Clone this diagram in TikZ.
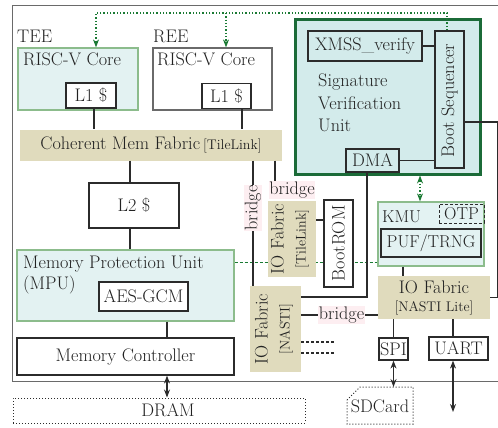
\documentclass[tikz,border=0pt]{standalone}
\usepackage{fontspec}
\usetikzlibrary{arrows.meta}
\pgfdeclarelayer{bg}
\pgfsetlayers{bg,main}
\definecolor{cyanfill}{HTML}{E3F2F2}
\definecolor{gborder}{HTML}{8CBC8C}
\definecolor{svfill}{HTML}{D3EBEB}
\definecolor{svgreen}{HTML}{1B6B38}
\definecolor{tanc}{HTML}{E0DBBD}
\definecolor{pinkc}{HTML}{FDEEF1}
\definecolor{gdotc}{HTML}{1A7A33}
\definecolor{edge}{HTML}{2B2B2B}
\definecolor{framec}{HTML}{6A6A6A}
\definecolor{txt}{HTML}{222222}
\newcommand\mainf{\fontsize{18.2}{22}\selectfont}
\newcommand\smallf{\fontsize{14}{16}\selectfont}
\newcommand\kmuf{\fontsize{17.2}{20}\selectfont}
\begin{document}
\begin{tikzpicture}[x=1pt,y=-1pt,
  sz/.style 2 args={minimum width=#1pt, minimum height=#2pt},
  lbl/.style={inner sep=0pt, font=\mainf, text=txt},
  box/.style={lbl, draw=edge, line width=1.2pt, fill=white},
  cyanbox/.style={lbl, draw=gborder, line width=1.2pt, fill=cyanfill},
  graybox/.style={lbl, draw=framec, line width=1.2pt, fill=white},
  tanbox/.style={lbl, fill=tanc},
  svbox/.style={lbl, draw=svgreen, line width=3pt, fill=svfill},
  dotbox/.style={lbl, draw=edge, line width=1pt, dotted},
  dashbox/.style={lbl, draw=edge, line width=1pt, dash pattern=on 3pt off 2pt},
  pinkl/.style={lbl, fill=pinkc, inner xsep=0.5pt, inner ysep=0.5pt},
  conn/.style={draw=edge, line width=1.2pt},
  dconn/.style={draw=edge, line width=1.2pt, dash pattern=on 3pt off 2pt},
  arr2/.style={draw=edge, line width=1.2pt, {Stealth[length=8pt,width=6pt]}-{Stealth[length=8pt,width=6pt]}},
  gdot/.style={draw=gdotc, line width=1.3pt, dotted},
  gdash/.style={draw=gdotc, line width=1pt, dash pattern=on 3pt off 2pt},
  gtip/.style={-{Stealth[length=8pt,width=6pt]}}
]
\useasboundingbox (0,0) rectangle (498,428);
\begin{pgfonlayer}{bg}
  \draw[framec, line width=1pt] (12,6) rectangle (510,381);
\end{pgfonlayer}

% TEE / REE cores
\node[lbl, anchor=base west] (teelab) at (17,43) {TEE};
\node[lbl, anchor=base west] (reelab) at (153,43) {REE};
\node[cyanbox, sz={120}{62}] (tee) at (78,79) {};
\node[lbl, anchor=base west] (teet) at (23,66) {RISC-V Core};
\node[box, sz={50}{25}] (teel1) at (91,95.5) {L1 \$};
\node[graybox, sz={119}{62}] (ree) at (212.5,79) {};
\node[lbl, anchor=base west] (reet) at (157,66) {RISC-V Core};
\node[box, sz={49}{25}] (reel1) at (226.5,96) {L1 \$};

% coherent fabric, L2, MPU, MC, DRAM
\node[tanbox, sz={262}{31}] (cmf) at (151,145) {Coherent Mem Fabric\,{\smallf[TileLink]}};
\node[box, sz={90}{45}] (l2) at (134,205.5) {L2 \$};
\node[cyanbox, sz={217}{71}] (mpu) at (125.5,285.5) {};
\node[lbl, anchor=base west] (mput1) at (23,268) {Memory Protection Unit};
\node[lbl, anchor=base west] (mput2) at (23,289) {(MPU)};
\node[box, sz={89}{29}] (aes) at (143.5,296.5) {AES-GCM};
\node[box, sz={217}{37}] (mc) at (125.5,356.5) {Memory Controller};
\node[dotbox, sz={292}{25}] (dram) at (159,410.5) {};
\node[lbl] (dramt) at (168,410.5) {DRAM};

% Signature verification unit
\node[svbox, sz={185}{154}] (svu) at (387.5,97) {};
\node[box, fill=svfill, sz={114}{30}] (xmss) at (365,46) {XMSS\_verify};
\node[box, fill=svfill, sz={29}{137}] (bs) at (449.5,99.5) {};
\node[lbl, rotate=90] (bst) at (449.5,100.5) {Boot Sequencer};
\node[box, fill=svfill, sz={53}{23}] (dma) at (372.5,160.5) {DMA};
\node[lbl, anchor=base west] (sv1) at (318,87) {Signature};
\node[lbl, anchor=base west] (sv2) at (318,110) {Verification};
\node[lbl, anchor=base west] (sv3) at (318,131) {Unit};

% KMU
\node[cyanbox, sz={106}{64}] (kmu) at (431,234) {};
\node[lbl, font=\kmuf, anchor=base west] (kmut) at (382,222) {KMU};
\node[dashbox, font=\kmuf, sz={45}{19}] (otp) at (461.5,213.5) {OTP};
\node[box, font=\kmuf, fill=cyanfill, sz={100}{28}] (puf) at (431,243) {PUF/TRNG};

% IO fabrics
\node[tanbox, sz={112}{43}, align=center] (nl) at (434,297.5) {IO Fabric\\[-4pt]{\smallf[NASTI Lite]}};
\node[tanbox, sz={51}{86}] (na) at (275.5,329) {};
\node[lbl, rotate=90, align=center] (nat) at (274,329) {IO Fabric\\{\smallf[NASTI]}};
\node[tanbox, sz={48}{76}] (iotl) at (292,239) {};
\node[lbl, rotate=90, align=center] (iotlt) at (290,239) {IO Fabric\\{\smallf[TileLink]}};
\node[box, sz={29}{87}] (brom) at (338.5,243.5) {};
\node[lbl, rotate=90] (bromt) at (338.5,243.5) {BootROM};

% bridges
\node[pinkl, rotate=90] (brv) at (253,208) {bridge};
\node[pinkl] (brh) at (292,190) {bridge};
\node[pinkl] (brn) at (341.5,315) {bridge};

% peripherals
\node[box, sz={29}{22}] (spi) at (393.5,349) {SPI};
\node[box, sz={59}{23}] (uart) at (458.5,348.5) {UART};
\draw[edge, line width=1pt, dotted] (347,400) -- (360,387) -- (413,387) -- (413,424) -- (347,424) -- cycle;
\node[lbl] (sdc) at (380,406) {SDCard};
\coordinate (sdtop) at (393.5,387);
\coordinate (uend) at (453,412);
\coordinate (topc) at (0,13);
\coordinate (d1) at (334,342);
\coordinate (d2) at (334,353);

% connectors
\draw[conn] ([xshift=3pt]teel1.south) -- ([xshift=3pt]teel1.south |- cmf.north);
\draw[conn] ([xshift=15.5pt]reel1.south) -- ([xshift=15.5pt]reel1.south |- cmf.north);
\draw[conn] ([xshift=-4pt]l2.north |- cmf.south) -- ([xshift=-4pt]l2.north);
\draw[conn] ([xshift=-4pt]l2.south) -- ([xshift=-4pt]l2.south |- mpu.north);
\draw[conn] ([xshift=41.5pt]mpu.south) -- ([xshift=41.5pt]mpu.south |- mc.north);
\draw[arr2] ([xshift=41.5pt]mc.south) -- ([xshift=41.5pt]mc.south |- dram.north);
\draw[conn] (brv.east |- cmf.south) -- (brv.east);
\draw[conn] (brv.west) -- (brv.west |- na.north);
\draw[conn] ([xshift=-17pt]brh.north |- cmf.south) -- ([xshift=-17pt]brh.north);
\draw[conn] ([yshift=19pt]iotl.east) -- ([yshift=19pt]iotl.east -| brom.west);
\draw[conn] (xmss.east) -- (xmss.east -| bs.west);
\draw[conn] (dma.east) -- (dma.east -| bs.west);
\draw[conn] ([yshift=-22.5pt]bs.east) -- ++(33,0) |- (nl.east);
\draw[conn] ([xshift=-5.5pt]dma.south) |- ([yshift=32pt]na.east);
\draw[conn] ([yshift=14pt]na.east) -- (brn.west);
\draw[conn] (brn.east) -- (brn.east -| nl.west);
\draw[dconn] (d1 -| na.east) -- (d1);
\draw[dconn] (d2 -| na.east) -- (d2);
\draw[conn] ([xshift=-28pt]kmu.south) -- ([xshift=-28pt]kmu.south |- nl.north);
\draw[conn] (spi.north |- nl.south) -- (spi.north);
\draw[conn] ([xshift=-5.5pt]uart.north) -- ([xshift=-5.5pt]uart.north |- nl.south);
\draw[arr2] (spi.south) -- (sdtop);
\draw[arr2] ([xshift=-5.5pt]uart.south) -- (uend);

% green links
\begin{pgfonlayer}{bg}
  \draw[gdash] ([yshift=23.5pt]mpu.east) -- ([yshift=23.5pt]mpu.east -| kmu.west);
\end{pgfonlayer}
\draw[gdot, gtip] ([xshift=-2.5pt]bs.north) |- ([xshift=18pt]tee.north |- topc) -- ([xshift=18pt]tee.north);
\draw[gdot, gtip] ([xshift=13.5pt]ree.north |- topc) -- ([xshift=13.5pt]ree.north);
\draw[gdot, {Stealth[length=8pt,width=6pt]}-{Stealth[length=8pt,width=6pt]}] ([xshift=32.5pt]svu.south) -- ([xshift=32.5pt]svu.south |- kmu.north);
\end{tikzpicture}
\end{document}
